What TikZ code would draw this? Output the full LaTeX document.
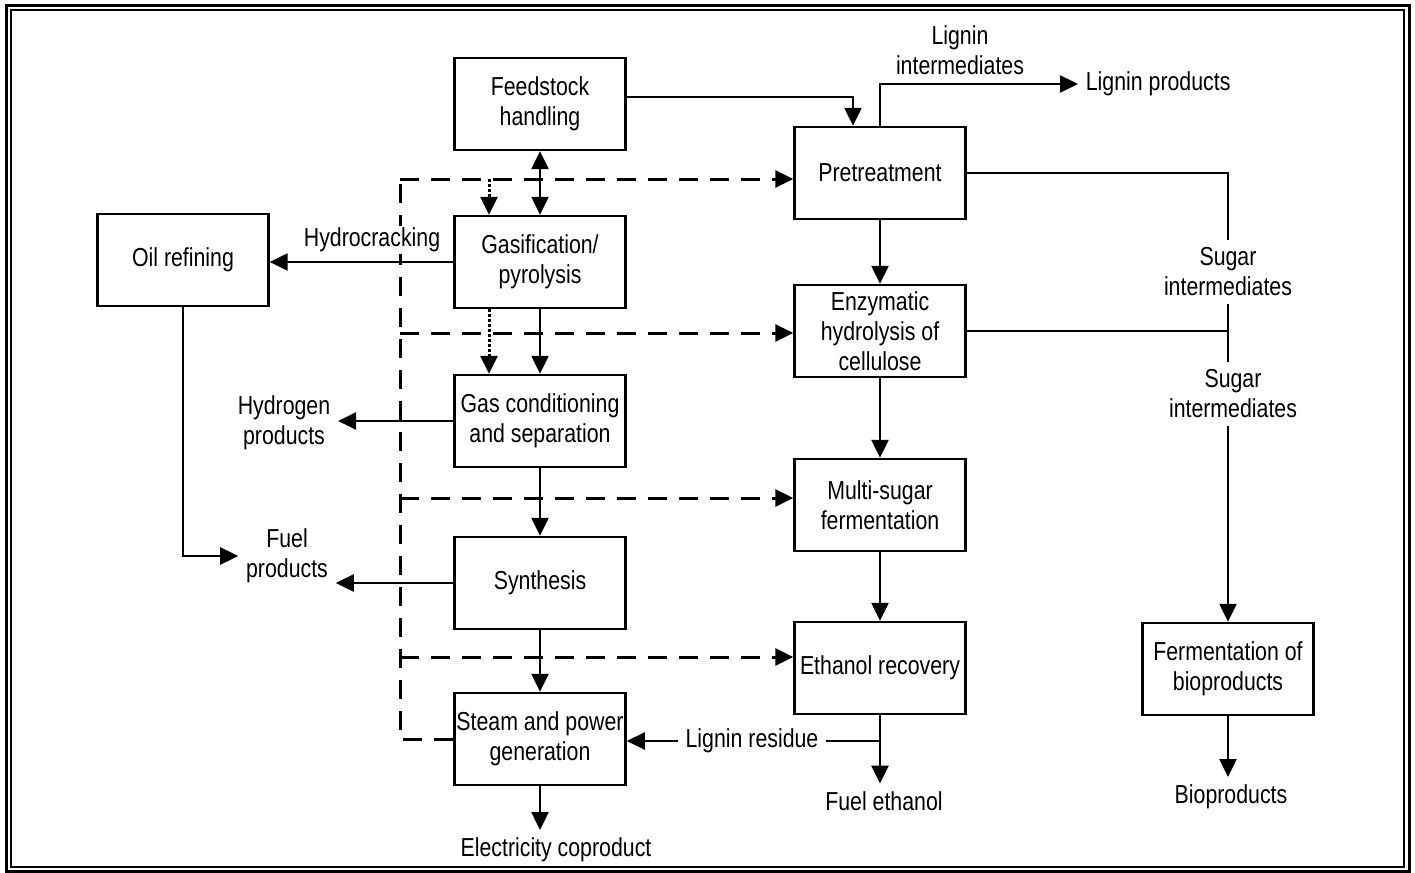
\documentclass[tikz,border=0pt]{standalone}
\usepackage{fontspec}
\setmainfont{Liberation Sans}[FakeStretch=0.82]
\usetikzlibrary{arrows.meta,calc,positioning}

\begin{document}
\begin{tikzpicture}[x=0.5pt, y=-0.5pt, line width=1.2pt,
  every node/.style={font=\fontsize{13}{15}\selectfont, align=center},
  box/.style={draw, minimum width=85.5pt, minimum height=46pt, inner sep=1pt},
  arr/.style={-{Triangle[length=9pt,width=8.5pt]}},
  dblarr/.style={{Triangle[length=9pt,width=8.5pt]}-{Triangle[length=9pt,width=8.5pt]}},
  dashline/.style={line width=1.5pt, dash pattern=on 9.5pt off 6pt},
  dasharr/.style={arr, dashline},
  dotarr/.style={arr, line width=1.5pt, dash pattern=on 1.5pt off 1pt}]
  \useasboundingbox (0,0) rectangle (1415,873);
  % frame
  \draw[line width=1.5pt] (6,5) rectangle (1409,871);
  \draw (11,10) rectangle (1404,867);

  % thermochemical column
  \node[box] (feed) at (540,104) {Feedstock\\handling};
  \node[box] (gasif) at (540,262) {Gasification/\\pyrolysis};
  \node[box] (gascond) at (540,421) {Gas conditioning\\and separation};
  \node[box] (synth) at (540,583) {Synthesis};
  \node[box] (steam) at (540,739) {Steam and power\\generation};
  \node[box] (oil) at (183,260) {Oil refining};

  % biochemical column
  \node[box] (pretreat) at (880,173) {Pretreatment};
  \node[box] (enzym) at (880,331) {Enzymatic\\hydrolysis of\\cellulose};
  \node[box] (multi) at (880,505) {Multi-sugar\\fermentation};
  \node[box] (ethrec) at (880,668) {Ethanol recovery};
  \node[box] (fermbio) at (1228,669) {Fermentation of\\bioproducts};

  % stream labels
  \node (lint) at (960,50) {Lignin\\intermediates};
  \node[anchor=west] (lprod) at (1078,84) {Lignin products};
  \node (hydp) at (284,423) {Hydrogen\\products};
  \node (fuelp) at (287,556) {Fuel\\products};
  \node (elec) at (556,850) {Electricity coproduct};
  \node (lres) at (752,741) {Lignin residue};
  \node (feth) at (884,801) {Fuel ethanol};
  \node (sug1) at (1228,272) {Sugar\\intermediates};
  \node (sug2) at (1233,394) {Sugar\\intermediates};
  \node (bioprod) at (1231,797) {Bioproducts};

  % main flows
  \draw[arr] ([yshift=3.5pt]feed.east) -| ([xshift=-13.5pt]pretreat.north);
  \draw[arr] (pretreat.north) |- (lprod.west);
  \draw[dblarr] (feed.south) -- (gasif.north);
  \draw[arr] (gasif.south) -- (gascond.north);
  \draw[arr] (gascond.south) -- (synth.north);
  \draw[arr] (synth.south) -- (steam.north);
  \draw[arr] (steam.south) -- (steam.south |- elec.north);
  \draw[arr] (pretreat.south) -- (enzym.north);
  \draw[arr] (enzym.south) -- (multi.north);
  \draw[arr] (multi.south) -- (ethrec.north);
  \draw[arr] (ethrec.south) -- (ethrec.south |- feth.north);

  % side streams
  \draw[arr] (oil.south) |- (fuelp.west);
  \draw[arr] (gascond.west) -- (gascond.west -| hydp.east);
  \draw[arr] (synth.west) -- (synth.west -| fuelp.east);
  \draw (ethrec.south |- lres.east) -- (lres.east);
  \draw[arr] (lres.west) -- (lres.west -| steam.east);

  % sugar streams
  \draw (pretreat.east) -| (sug1.north);
  \draw (enzym.east) -- (enzym.east -| sug1.south);
  \draw (sug1.south) -- (sug1.south |- sug2.north);
  \draw[arr] (sug2.south -| fermbio.north) -- (fermbio.north);
  \draw[arr] (fermbio.south) -- (fermbio.south |- bioprod.north);

  % steam and power distribution (dashed)
  \coordinate (dtop) at (400,179);
  \draw[dashline] (steam.west) -| (dtop);
  \draw[dasharr] (dtop) -- (dtop -| pretreat.west);
  \foreach \n/\y in {enzym/333, multi/498, ethrec/657} {
    \coordinate (dash-\n) at (400,\y);
    \draw[dasharr] (dash-\n) -- (dash-\n -| \n.west);
  }

  % dotted feeds
  \coordinate (dot) at (489,179);
  \draw[dotarr] (dot) -- (dot |- gasif.north);
  \draw[dotarr] (dot |- gasif.south) -- (dot |- gascond.north);

  % hydrocracking label over the dashed line
  \node[fill=white, inner sep=1pt] (hydro) at (372,240) {Hydrocracking};
  \draw[arr] (gasif.west) -- (gasif.west -| oil.east);
\end{tikzpicture}
\end{document}
